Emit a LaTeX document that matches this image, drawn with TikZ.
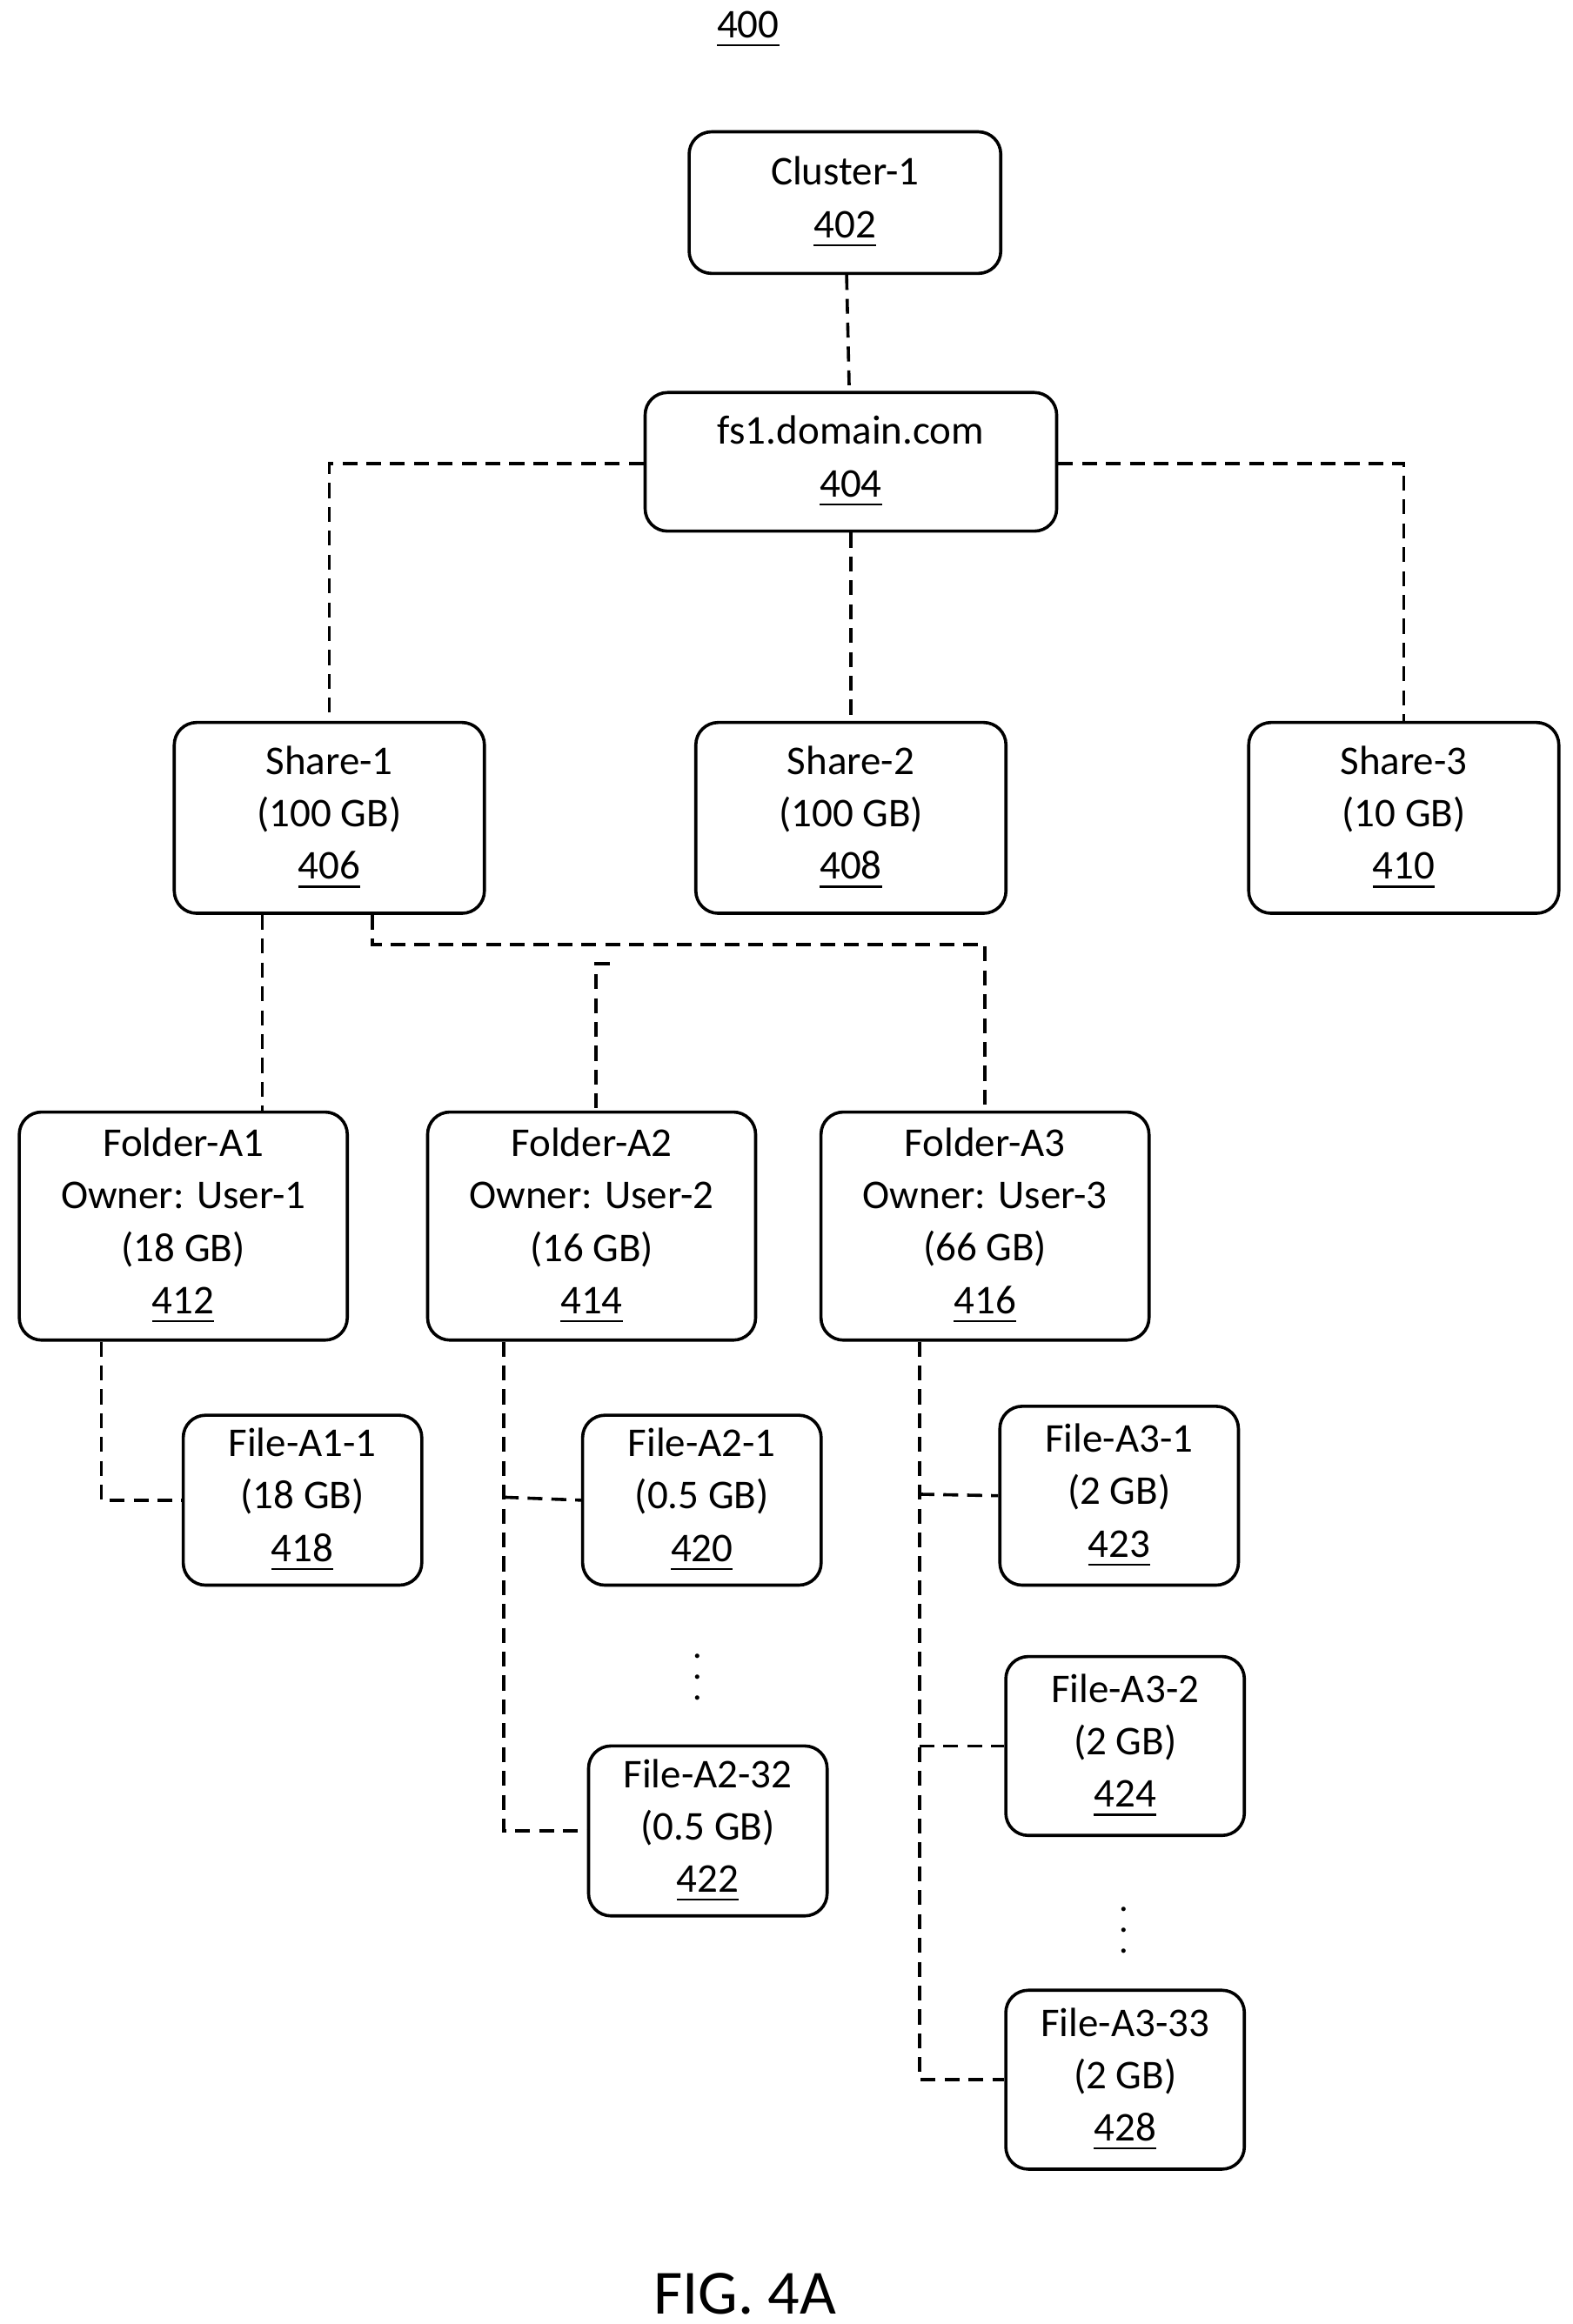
\documentclass[tikz,border=0pt]{standalone}
\usepackage{fontspec}
\setmainfont{Carlito}
\usetikzlibrary{positioning}
\tikzset{
  box/.style={draw, rounded corners=0.15cm, line width=0.6pt, align=center,
    inner sep=0pt, font=\fontsize{7.8}{10}\selectfont},
  link/.style={line width=0.6pt, dash pattern=on 0.1cm off 0.06cm},
  vdots/.style={inner sep=0pt, font=\fontsize{7}{8}\selectfont}
}
\newcommand{\num}[1]{\underline{#1}}
\begin{document}
\begin{tikzpicture}[x=0.01cm, y=-0.01cm]
  \useasboundingbox (0,0) rectangle (1055,1560);
  \node[font=\fontsize{7.8}{10}\selectfont] (fig) at (502,20) {\num{400}};
  % top levels
  \node[box, minimum width=2.09cm, minimum height=0.95cm] (cl1) at (567,136) {Cluster-1\\\num{402}};
  \node[box, minimum width=2.76cm, minimum height=0.93cm] (fs1) at (571,310) {fs1.domain.com\\\num{404}};
  % shares
  \node[box, minimum width=2.08cm, minimum height=1.28cm] (sh1) at (221,549) {Share-1\\(100 GB)\\\num{406}};
  \node[box, minimum width=2.08cm, minimum height=1.28cm] (sh2) at (571,549) {Share-2\\(100 GB)\\\num{408}};
  \node[box, minimum width=2.08cm, minimum height=1.28cm] (sh3) at (942,549) {Share-3\\(10 GB)\\\num{410}};
  % folders
  \node[box, minimum width=2.2cm, minimum height=1.53cm] (fa1) at (123,823) {Folder-A1\\Owner: User-1\\(18 GB)\\\num{412}};
  \node[box, minimum width=2.2cm, minimum height=1.53cm] (fa2) at (397,823) {Folder-A2\\Owner: User-2\\(16 GB)\\\num{414}};
  \node[box, minimum width=2.2cm, minimum height=1.53cm] (fa3) at (661,823) {Folder-A3\\Owner: User-3\\(66 GB)\\\num{416}};
  % files
  \node[box, minimum width=1.6cm, minimum height=1.14cm] (f11) at (203,1007) {File-A1-1\\(18 GB)\\\num{418}};
  \node[box, minimum width=1.6cm, minimum height=1.14cm] (f21) at (471,1007) {File-A2-1\\(0.5 GB)\\\num{420}};
  \node[box, minimum width=1.6cm, minimum height=1.14cm] (f232) at (475,1229) {File-A2-32\\(0.5 GB)\\\num{422}};
  \node[box, minimum width=1.6cm, minimum height=1.2cm] (f31) at (751,1004) {File-A3-1\\(2 GB)\\\num{423}};
  \node[box, minimum width=1.6cm, minimum height=1.2cm] (f32) at (755,1172) {File-A3-2\\(2 GB)\\\num{424}};
  \node[box, minimum width=1.6cm, minimum height=1.2cm] (f333) at (755,1396) {File-A3-33\\(2 GB)\\\num{428}};
  \node[vdots] (d2) at (468,1115) {$\vdots$};
  \node[vdots] (d3) at (754,1285) {$\vdots$};
  \node[font=\fontsize{12}{14}\selectfont] (cap) at (500,1540) {FIG. 4A};
  % connectors
  \draw[link] (cl1) -- (fs1);
  \draw[link] (fs1.west |- 0,311) -| (sh1.north);
  \draw[link] (fs1.east |- 0,311) -| (sh3.north);
  \draw[link] (fs1.south) -- (sh2.north);
  \draw[link] (sh1.south -| 176,0) -- (fa1.north -| 176,0);
  \draw[link] (sh1.south -| 250,0) |- (661,634) -- (fa3.north -| 661,0);
  \coordinate (hk) at (409,647);
  \draw[link] (hk) -| (fa2.north -| 400,0);
  \draw[link] (fa1.south -| 68,0) |- (f11.west);
  \draw[link] (fa2.south -| 338,0) |- (f232.west);
  \draw[link] (338,1005) -- (f21.west);
  \draw[link] (fa3.south -| 617,0) |- (f333.west);
  \draw[link] (617,1003) -- (f31.west);
  \draw[link] (617,1172) -- (f32.west);
\end{tikzpicture}
\end{document}
